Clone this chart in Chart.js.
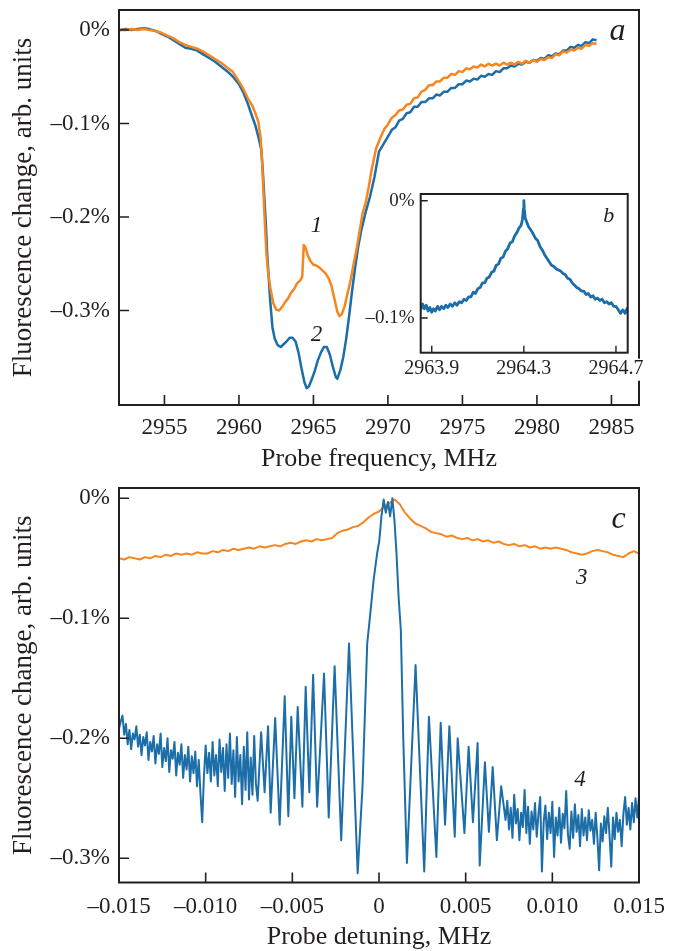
<!DOCTYPE html>
<html><head><meta charset="utf-8">
<script src="https://cdn.jsdelivr.net/npm/chart.js@4.4.1/dist/chart.umd.min.js"></script>
<style>
html,body{margin:0;padding:0;background:#fff;}
#wrap{position:relative;width:676px;height:951px;overflow:hidden;background:#fff;}
canvas{position:absolute;left:0;top:0;}
</style></head><body>
<div id="wrap">
<canvas id="cA" width="676" height="951"></canvas>
<canvas id="cC" width="676" height="951"></canvas>
<canvas id="cB" width="676" height="951"></canvas>
</div>
<script>
// ---------- Panel a: curve 1 (orange) ----------
const freq1 = [2952.0,2952.4,2952.8,2953.2,2953.6,2954.0,2954.4,2954.8,2955.2,2955.6,2956.0,2956.4,2956.8,2957.2,2957.6,2958.0,2958.4,2958.8,2959.2,2959.6,2960.0,2960.3,2960.6,2960.9,2961.1,2961.3,2961.45,2961.55,2961.65,2961.75,2961.85,2961.95,2962.1,2962.3,2962.5,2962.7,2962.9,2963.1,2963.3,2963.5,2963.7,2963.9,2964.1,2964.25,2964.35,2964.45,2964.6,2964.8,2965.0,2965.2,2965.4,2965.6,2965.8,2966.0,2966.2,2966.4,2966.6,2966.75,2966.9,2967.1,2967.3,2967.5,2967.7,2967.9,2968.1,2968.3,2968.5,2968.7,2968.9,2969.2,2969.5,2969.75,2970.0,2970.25,2970.5,2970.75,2971.0,2971.25,2971.5,2971.75,2972.0,2972.25,2972.5,2972.75,2973.0,2973.25,2973.5,2973.75,2974.0,2974.25,2974.5,2974.75,2975.0,2975.25,2975.5,2975.75,2976.0,2976.25,2976.5,2976.75,2977.0,2977.25,2977.5,2977.75,2978.0,2978.25,2978.5,2978.75,2979.0,2979.25,2979.5,2979.75,2980.0,2980.25,2980.5,2980.75,2981.0,2981.25,2981.5,2981.75,2982.0,2982.25,2982.5,2982.75,2983.0,2983.25,2983.5,2983.75,2984.0];
const fluo1 = [0.000,0.000,0.001,0.000,0.001,0.000,-0.001,-0.003,-0.006,-0.009,-0.013,-0.016,-0.018,-0.020,-0.023,-0.027,-0.031,-0.035,-0.040,-0.045,-0.055,-0.063,-0.073,-0.081,-0.089,-0.098,-0.115,-0.140,-0.175,-0.210,-0.240,-0.258,-0.275,-0.292,-0.299,-0.300,-0.296,-0.291,-0.287,-0.281,-0.277,-0.271,-0.268,-0.264,-0.230,-0.232,-0.240,-0.247,-0.251,-0.252,-0.254,-0.257,-0.260,-0.265,-0.273,-0.287,-0.301,-0.306,-0.304,-0.295,-0.281,-0.267,-0.250,-0.234,-0.215,-0.196,-0.185,-0.169,-0.150,-0.127,-0.115,-0.106,-0.101,-0.094,-0.091,-0.086,-0.085,-0.080,-0.079,-0.073,-0.072,-0.066,-0.064,-0.059,-0.059,-0.055,-0.055,-0.051,-0.051,-0.047,-0.048,-0.044,-0.045,-0.041,-0.042,-0.039,-0.040,-0.037,-0.039,-0.036,-0.038,-0.036,-0.038,-0.035,-0.037,-0.035,-0.037,-0.034,-0.036,-0.033,-0.035,-0.032,-0.034,-0.031,-0.032,-0.029,-0.030,-0.026,-0.027,-0.023,-0.024,-0.021,-0.022,-0.019,-0.020,-0.016,-0.017,-0.014,-0.015];
// ---------- Panel a: curve 2 (blue) ----------
const freq2 = [2952.0,2952.4,2952.8,2953.2,2953.6,2954.0,2954.4,2954.8,2955.2,2955.6,2956.0,2956.4,2956.8,2957.2,2957.6,2958.0,2958.4,2958.8,2959.2,2959.6,2960.0,2960.3,2960.6,2960.9,2961.1,2961.3,2961.5,2961.6,2961.7,2961.8,2961.9,2962.0,2962.1,2962.25,2962.4,2962.6,2962.8,2963.0,2963.2,2963.4,2963.6,2963.8,2964.0,2964.2,2964.4,2964.55,2964.7,2964.9,2965.1,2965.3,2965.5,2965.7,2965.9,2966.1,2966.3,2966.5,2966.6,2966.8,2967.0,2967.2,2967.4,2967.6,2967.8,2968.0,2968.2,2968.5,2968.8,2969.1,2969.4,2969.7,2970.0,2970.25,2970.5,2970.75,2971.0,2971.25,2971.5,2971.75,2972.0,2972.25,2972.5,2972.75,2973.0,2973.25,2973.5,2973.75,2974.0,2974.25,2974.5,2974.75,2975.0,2975.25,2975.5,2975.75,2976.0,2976.25,2976.5,2976.75,2977.0,2977.25,2977.5,2977.75,2978.0,2978.25,2978.5,2978.75,2979.0,2979.25,2979.5,2979.75,2980.0,2980.25,2980.5,2980.75,2981.0,2981.25,2981.5,2981.75,2982.0,2982.25,2982.5,2982.75,2983.0,2983.25,2983.5,2983.75,2984.0];
const fluo2 = [0.000,0.001,0.000,0.001,0.002,0.001,-0.001,-0.004,-0.007,-0.011,-0.015,-0.019,-0.020,-0.022,-0.026,-0.030,-0.034,-0.039,-0.044,-0.050,-0.058,-0.067,-0.079,-0.093,-0.102,-0.114,-0.128,-0.150,-0.178,-0.205,-0.240,-0.265,-0.290,-0.318,-0.330,-0.337,-0.339,-0.336,-0.333,-0.329,-0.329,-0.333,-0.345,-0.362,-0.377,-0.383,-0.381,-0.373,-0.364,-0.353,-0.345,-0.339,-0.339,-0.347,-0.360,-0.371,-0.373,-0.364,-0.350,-0.330,-0.305,-0.278,-0.254,-0.232,-0.215,-0.195,-0.178,-0.157,-0.130,-0.122,-0.114,-0.107,-0.104,-0.097,-0.095,-0.089,-0.088,-0.082,-0.082,-0.077,-0.077,-0.073,-0.073,-0.069,-0.070,-0.066,-0.066,-0.062,-0.062,-0.058,-0.058,-0.054,-0.055,-0.052,-0.053,-0.049,-0.050,-0.047,-0.048,-0.044,-0.045,-0.041,-0.041,-0.038,-0.039,-0.036,-0.037,-0.034,-0.035,-0.032,-0.033,-0.030,-0.031,-0.027,-0.028,-0.025,-0.026,-0.022,-0.022,-0.018,-0.019,-0.016,-0.017,-0.013,-0.014,-0.010,-0.011];
const freqTicks = [2955,2960,2965,2970,2975,2980,2985];
const freqLabels = ['2955','2960','2965','2970','2975','2980','2985'];
const pctTicksA = [0,-0.1,-0.2,-0.3];
const pctLabels = ['0%','\u20130.1%','\u20130.2%','\u20130.3%'];

// ---------- Inset b ----------
const freqB = [2963.852,2963.860,2963.868,2963.876,2963.884,2963.892,2963.900,2963.908,2963.916,2963.925,2963.934,2963.943,2963.952,2963.961,2963.970,2963.980,2963.990,2964.000,2964.010,2964.020,2964.030,2964.040,2964.050,2964.060,2964.070,2964.080,2964.090,2964.100,2964.110,2964.120,2964.130,2964.140,2964.150,2964.160,2964.170,2964.180,2964.190,2964.200,2964.210,2964.220,2964.230,2964.240,2964.250,2964.260,2964.270,2964.280,2964.288,2964.294,2964.298,2964.300,2964.302,2964.306,2964.312,2964.320,2964.330,2964.340,2964.350,2964.360,2964.370,2964.380,2964.390,2964.400,2964.410,2964.420,2964.430,2964.440,2964.450,2964.460,2964.470,2964.480,2964.490,2964.500,2964.510,2964.520,2964.530,2964.540,2964.550,2964.560,2964.570,2964.580,2964.590,2964.600,2964.610,2964.620,2964.630,2964.640,2964.650,2964.660,2964.670,2964.680,2964.690,2964.700,2964.710,2964.720,2964.730,2964.740,2964.750];
const fluoB = [-0.093,-0.088,-0.092,-0.089,-0.094,-0.091,-0.095,-0.092,-0.094,-0.090,-0.093,-0.090,-0.092,-0.089,-0.091,-0.088,-0.090,-0.087,-0.089,-0.086,-0.087,-0.084,-0.085,-0.082,-0.082,-0.078,-0.079,-0.075,-0.074,-0.070,-0.070,-0.066,-0.065,-0.061,-0.060,-0.055,-0.054,-0.049,-0.048,-0.043,-0.041,-0.036,-0.035,-0.030,-0.027,-0.023,-0.021,-0.016,-0.007,0.000,-0.007,-0.015,-0.018,-0.022,-0.025,-0.028,-0.032,-0.034,-0.039,-0.042,-0.046,-0.049,-0.052,-0.055,-0.056,-0.058,-0.059,-0.060,-0.062,-0.063,-0.066,-0.067,-0.070,-0.072,-0.074,-0.075,-0.077,-0.077,-0.080,-0.079,-0.082,-0.081,-0.084,-0.083,-0.085,-0.084,-0.087,-0.086,-0.088,-0.087,-0.090,-0.090,-0.093,-0.096,-0.093,-0.096,-0.091];
const freqTicksB = [2963.9,2964.3,2964.7];
const freqLabelsB = ['2963.9','2964.3','2964.7'];
const pctTicksB = [0,-0.1];
const pctLabelsB = ['0%','\u20130.1%'];

// ---------- Panel c: curve 3 (orange) ----------
const det3 = [-0.0150,-0.0147,-0.0144,-0.0141,-0.0138,-0.0135,-0.0132,-0.0129,-0.0126,-0.0123,-0.0120,-0.0117,-0.0114,-0.0111,-0.0108,-0.0105,-0.0102,-0.0099,-0.0096,-0.0093,-0.0090,-0.0087,-0.0084,-0.0081,-0.0078,-0.0075,-0.0072,-0.0069,-0.0066,-0.0063,-0.0060,-0.0057,-0.0054,-0.0051,-0.0048,-0.0045,-0.0042,-0.0039,-0.0036,-0.0033,-0.0030,-0.0027,-0.0024,-0.0021,-0.0018,-0.0015,-0.0012,-0.0009,-0.0006,-0.0003,0.0000,0.0003,0.0006,0.0009,0.0012,0.0015,0.0018,0.0021,0.0024,0.0027,0.0030,0.0033,0.0036,0.0039,0.0042,0.0045,0.0048,0.0051,0.0054,0.0057,0.0060,0.0063,0.0066,0.0069,0.0072,0.0075,0.0078,0.0081,0.0084,0.0087,0.0090,0.0093,0.0096,0.0099,0.0102,0.0105,0.0108,0.0111,0.0114,0.0117,0.0120,0.0123,0.0126,0.0129,0.0132,0.0135,0.0138,0.0141,0.0144,0.0147,0.0150];
const fluo3 = [-0.050,-0.051,-0.049,-0.050,-0.051,-0.049,-0.050,-0.048,-0.049,-0.047,-0.048,-0.046,-0.047,-0.046,-0.047,-0.045,-0.046,-0.046,-0.044,-0.045,-0.043,-0.044,-0.042,-0.043,-0.042,-0.041,-0.042,-0.040,-0.041,-0.040,-0.039,-0.040,-0.038,-0.037,-0.038,-0.036,-0.035,-0.036,-0.034,-0.035,-0.034,-0.033,-0.029,-0.027,-0.026,-0.024,-0.023,-0.020,-0.016,-0.013,-0.011,-0.007,-0.004,-0.001,-0.005,-0.012,-0.017,-0.021,-0.023,-0.025,-0.028,-0.029,-0.030,-0.032,-0.031,-0.033,-0.034,-0.033,-0.035,-0.034,-0.036,-0.035,-0.037,-0.036,-0.038,-0.039,-0.038,-0.040,-0.039,-0.041,-0.040,-0.042,-0.041,-0.042,-0.041,-0.042,-0.043,-0.045,-0.046,-0.047,-0.046,-0.044,-0.043,-0.044,-0.045,-0.047,-0.048,-0.049,-0.046,-0.044,-0.046];
// ---------- Panel c: curve 4 (blue) ----------
const det4 = [-0.0150,-0.0149,-0.0148,-0.0147,-0.0146,-0.0145,-0.0144,-0.0143,-0.0142,-0.0141,-0.0140,-0.0139,-0.0138,-0.0137,-0.0136,-0.0135,-0.0134,-0.0133,-0.0132,-0.0131,-0.0130,-0.0129,-0.0128,-0.0127,-0.0126,-0.0125,-0.0124,-0.0123,-0.0122,-0.0121,-0.0120,-0.0119,-0.0118,-0.0117,-0.0116,-0.0115,-0.0114,-0.0113,-0.0112,-0.0111,-0.0110,-0.0109,-0.0108,-0.0107,-0.0106,-0.0105,-0.0104,-0.0103,-0.0102,-0.0101,-0.0100,-0.0099,-0.0098,-0.0097,-0.0096,-0.0095,-0.0094,-0.0093,-0.0092,-0.0091,-0.0090,-0.0089,-0.0088,-0.0087,-0.0086,-0.0085,-0.0084,-0.0083,-0.0082,-0.0081,-0.0080,-0.0079,-0.0078,-0.0077,-0.0076,-0.0075,-0.0074,-0.0073,-0.0072,-0.0071,-0.0070,-0.0068,-0.0066,-0.0064,-0.00625,-0.00599,-0.00573,-0.00544,-0.00523,-0.00506,-0.00488,-0.00469,-0.00442,-0.00423,-0.00402,-0.00380,-0.00357,-0.00317,-0.00290,-0.00256,-0.00218,-0.00173,-0.00123,-0.00095,-0.00068,-0.00048,-0.00031,-0.00011,0.00002,0.00014,0.00027,0.00039,0.00052,0.00064,0.00077,0.00089,0.00101,0.00113,0.00126,0.00140,0.00161,0.00211,0.00261,0.00288,0.00331,0.00356,0.00381,0.00406,0.00437,0.00454,0.00493,0.00517,0.00542,0.00569,0.00581,0.00611,0.00634,0.00656,0.00680,0.00705,0.0073,0.0074,0.0075,0.0076,0.0077,0.0078,0.0079,0.0080,0.0081,0.0082,0.0083,0.0084,0.0085,0.0086,0.0087,0.0088,0.0089,0.0090,0.0091,0.0092,0.0093,0.0094,0.0095,0.0096,0.0097,0.0098,0.0099,0.0100,0.0101,0.0102,0.0103,0.0104,0.0105,0.0106,0.0107,0.0108,0.0109,0.0110,0.0111,0.0112,0.0113,0.0114,0.0115,0.0116,0.0117,0.0118,0.0119,0.0120,0.0121,0.0122,0.0123,0.0124,0.0125,0.0126,0.0127,0.0128,0.0129,0.0130,0.0131,0.0132,0.0133,0.0134,0.0135,0.0136,0.0137,0.0138,0.0139,0.0140,0.0141,0.0142,0.0143,0.0144,0.0145,0.0146,0.0147,0.0148,0.0149,0.0150];
const fluo4 = [-0.192,-0.186,-0.181,-0.197,-0.188,-0.205,-0.193,-0.209,-0.196,-0.201,-0.190,-0.207,-0.197,-0.214,-0.199,-0.206,-0.195,-0.218,-0.203,-0.211,-0.198,-0.221,-0.205,-0.213,-0.196,-0.224,-0.208,-0.219,-0.200,-0.228,-0.210,-0.217,-0.203,-0.231,-0.212,-0.222,-0.205,-0.233,-0.214,-0.226,-0.207,-0.236,-0.215,-0.229,-0.211,-0.240,-0.218,-0.246,-0.270,-0.232,-0.206,-0.229,-0.212,-0.236,-0.203,-0.231,-0.214,-0.240,-0.201,-0.228,-0.208,-0.244,-0.205,-0.233,-0.196,-0.238,-0.210,-0.249,-0.199,-0.236,-0.214,-0.255,-0.207,-0.243,-0.195,-0.251,-0.216,-0.247,-0.198,-0.238,-0.252,-0.195,-0.245,-0.190,-0.262,-0.183,-0.272,-0.165,-0.265,-0.182,-0.250,-0.174,-0.257,-0.157,-0.245,-0.147,-0.257,-0.146,-0.266,-0.140,-0.285,-0.121,-0.3125,-0.240,-0.121,-0.093,-0.068,-0.046,-0.035,-0.015,-0.001,-0.012,-0.003,-0.015,0.000,-0.018,-0.046,-0.082,-0.110,-0.200,-0.304,-0.139,-0.311,-0.182,-0.299,-0.187,-0.272,-0.190,-0.282,-0.200,-0.279,-0.207,-0.270,-0.204,-0.306,-0.220,-0.278,-0.224,-0.285,-0.240,-0.268,-0.252,-0.276,-0.258,-0.283,-0.247,-0.271,-0.259,-0.285,-0.262,-0.274,-0.243,-0.279,-0.257,-0.288,-0.261,-0.276,-0.254,-0.282,-0.263,-0.249,-0.311,-0.270,-0.256,-0.284,-0.262,-0.279,-0.253,-0.299,-0.266,-0.281,-0.258,-0.287,-0.263,-0.275,-0.244,-0.280,-0.292,-0.261,-0.283,-0.255,-0.278,-0.264,-0.290,-0.259,-0.281,-0.266,-0.285,-0.260,-0.277,-0.268,-0.288,-0.262,-0.283,-0.310,-0.271,-0.286,-0.265,-0.279,-0.258,-0.281,-0.307,-0.266,-0.284,-0.262,-0.278,-0.268,-0.290,-0.263,-0.249,-0.272,-0.258,-0.276,-0.254,-0.270,-0.250,-0.266,-0.249];
const detTicks = [-0.015,-0.010,-0.005,0,0.005,0.010,0.015];
const detLabels = ['\u20130.015','\u20130.010','\u20130.005','0','0.005','0.010','0.015'];
const pctTicksC = [0,-0.1,-0.2,-0.3];

// ---------- styling ----------
const FONT = "'Liberation Serif','Times New Roman',serif";
const INK = '#231f20';
const ORANGE = '#f7861f';
const BLUE = '#1c6ea9';
Chart.defaults.font.family = FONT;
Chart.defaults.color = INK;
Chart.defaults.animation = false;

function pts(xs, ys){ return xs.map((x,i)=>({x:x, y:ys[i]})); }
function ds(xs, ys, color, w){ return {data: pts(xs,ys), borderColor: color, borderWidth: w, pointRadius: 0, tension: 0, fill: false, borderJoinStyle: 'round'}; }

function framePlugin(o){
  return {
    id: 'frame_' + o.name,
    beforeDraw(chart){
      if(!o.white) return;
      const {ctx, chartArea:a, scales} = chart;
      ctx.save(); ctx.fillStyle = '#fff';
      ctx.fillRect(a.left, a.top, a.right-a.left, a.bottom-a.top);
      ctx.font = o.xFont + 'px ' + FONT;
      scales.x.ticks.forEach(t => {
        const w = ctx.measureText(String(t.label)).width;
        const px = scales.x.getPixelForValue(t.value);
        ctx.fillRect(px - w/2 - 1, a.bottom + 6, w + 2, o.xFont + 2);
      });
      ctx.restore();
    },
    afterDraw(chart){
      const {ctx, chartArea:a, scales} = chart;
      ctx.save();
      ctx.strokeStyle = INK; ctx.lineWidth = o.lw;
      ctx.strokeRect(a.left, a.top, a.right-a.left, a.bottom-a.top);
      ctx.lineWidth = o.tw;
      ctx.beginPath();
      scales.x.ticks.forEach(t => { const p = scales.x.getPixelForValue(t.value); ctx.moveTo(p, a.bottom); ctx.lineTo(p, a.bottom - o.tl); });
      scales.y.ticks.forEach(t => { const p = scales.y.getPixelForValue(t.value); ctx.moveTo(a.left, p); ctx.lineTo(a.left + o.tl, p); });
      ctx.stroke();
      ctx.fillStyle = INK; ctx.textAlign = 'center'; ctx.textBaseline = 'middle';
      (o.labels || []).forEach(l => {
        ctx.font = 'italic ' + l.size + 'px ' + FONT;
        ctx.fillText(l.text, scales.x.getPixelForValue(l.x), scales.y.getPixelForValue(l.y));
      });
      ctx.restore();
    }
  };
}

function makeChart(id, cfg){
  return new Chart(document.getElementById(id), {
    type: 'line',
    data: {datasets: cfg.datasets},
    options: {
      responsive: false, animation: false, devicePixelRatio: 1,
      layout: {padding: cfg.padding},
      plugins: {legend: {display: false}, tooltip: {enabled: false}},
      scales: {
        x: {
          type: 'linear', min: cfg.xMin, max: cfg.xMax,
          grid: {display: false, drawTicks: false}, border: {display: false},
          afterBuildTicks: s => { s.ticks = cfg.xTicks.map(v => ({value: v})); },
          afterFit: s => { s.height = cfg.xH; s.paddingLeft = 0; s.paddingRight = 0; s.paddingTop = 0; s.paddingBottom = 0; },
          ticks: {autoSkip: false, maxRotation: 0, minRotation: 0, padding: cfg.xPad, color: INK,
                  font: {size: cfg.xFont, family: FONT},
                  callback: (v) => cfg.xLabels[cfg.xTicks.indexOf(v)]},
          title: cfg.xTitle ? {display: true, text: cfg.xTitle, color: INK, font: {size: 26, family: FONT}, padding: {top: 0, bottom: cfg.xTitlePad}} : {display: false}
        },
        y: {
          type: 'linear', min: cfg.yMin, max: cfg.yMax,
          grid: {display: false, drawTicks: false}, border: {display: false},
          afterBuildTicks: s => { s.ticks = cfg.yTicks.map(v => ({value: v})); },
          afterFit: s => { s.width = cfg.yW; s.paddingLeft = 0; s.paddingRight = 0; s.paddingTop = 0; s.paddingBottom = 0; },
          ticks: {autoSkip: false, padding: cfg.yPad, color: INK, font: {size: cfg.yFont, family: FONT},
                  callback: (v) => cfg.yLabels[cfg.yTicks.indexOf(v)]},
          title: cfg.yTitle ? {display: true, text: cfg.yTitle, color: INK, font: {size: 27, family: FONT}, padding: {top: 8, bottom: 0}} : {display: false}
        }
      }
    },
    plugins: [framePlugin(cfg.frame)]
  });
}

// Panel a
makeChart('cA', {
  datasets: [ds(freq1, fluo1, ORANGE, 2.5), ds(freq2, fluo2, BLUE, 2.5)],
  padding: {left: 0, top: 10, right: 37, bottom: 476},
  xMin: 2951.95, xMax: 2986.85, yMin: -0.401, yMax: 0.0214,
  xTicks: freqTicks, xLabels: freqLabels, xFont: 23, xPad: 9, xH: 70,
  xTitle: 'Probe frequency, MHz', xTitlePad: 0,
  yTicks: pctTicksA, yLabels: pctLabels, yFont: 23, yPad: 9, yW: 119,
  yTitle: 'Fluorescence change, arb. units',
  frame: {name: 'a', lw: 2, tw: 1.6, tl: 10, labels: [
    {text: 'a', x: 2985.4, y: -0.002, size: 32},
    {text: '1', x: 2965.2, y: -0.209, size: 23},
    {text: '2', x: 2965.2, y: -0.326, size: 23}
  ]}
});

// Panel c
makeChart('cC', {
  datasets: [ds(det4, fluo4, BLUE, 2), ds(det3, fluo3, ORANGE, 2)],
  padding: {left: 0, top: 488, right: 37, bottom: 0},
  xMin: -0.015, xMax: 0.015, yMin: -0.3202, yMax: 0.0086,
  xTicks: detTicks, xLabels: detLabels, xFont: 23, xPad: 11, xH: 68.5,
  xTitle: 'Probe detuning, MHz', xTitlePad: -2,
  yTicks: pctTicksC, yLabels: pctLabels, yFont: 23, yPad: 9, yW: 119,
  yTitle: 'Fluorescence change, arb. units',
  frame: {name: 'c', lw: 2, tw: 1.6, tl: 10, labels: [
    {text: 'c', x: 0.01382, y: -0.018, size: 32},
    {text: '3', x: 0.01169, y: -0.066, size: 23},
    {text: '4', x: 0.01160, y: -0.235, size: 23}
  ]}
});

// Inset b
makeChart('cB', {
  datasets: [ds(freqB, fluoB, BLUE, 2.8)],
  padding: {left: 340.7, top: 194, right: 48.3, bottom: 568.3},
  xMin: 2963.852, xMax: 2964.751, yMin: -0.1295, yMax: 0.0057,
  xTicks: freqTicksB, xLabels: freqLabelsB, xFont: 20, xPad: 4, xH: 30,
  yTicks: pctTicksB, yLabels: pctLabelsB, yFont: 19, yPad: 6, yW: 80,
  frame: {name: 'b', lw: 2, tw: 1.4, tl: 7, white: true, xFont: 20, labels: [
    {text: 'b', x: 2964.669, y: -0.013, size: 22}
  ]}
});
</script>
</body></html>
